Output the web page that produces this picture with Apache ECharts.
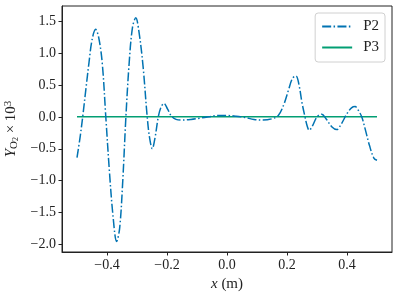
<!DOCTYPE html>
<html>
<head>
<meta charset="utf-8">
<script src="https://cdn.jsdelivr.net/npm/echarts@6/dist/echarts.min.js"></script>
<style>html,body{margin:0;padding:0;background:#fff}#c{width:399px;height:297px}</style>
</head>
<body>
<div id="c"></div>
<script>
const xP2 = [-0.500,-0.490,-0.481,-0.470,-0.460,-0.450,-0.438,-0.428,-0.416,-0.404,-0.392,-0.380,-0.368,-0.358,-0.348,-0.337,-0.326,-0.315,-0.304,-0.294,-0.280,-0.266,-0.258,-0.249,-0.240,-0.229,-0.220,-0.210,-0.198,-0.185,-0.170,-0.150,-0.120,-0.090,-0.060,-0.030,0.000,0.030,0.060,0.090,0.120,0.150,0.171,0.190,0.205,0.218,0.230,0.240,0.250,0.260,0.267,0.274,0.285,0.300,0.316,0.330,0.350,0.366,0.380,0.400,0.415,0.427,0.438,0.449,0.460,0.475,0.490,0.500];
const yP2 = [-0.64,-0.33,0.00,0.45,0.85,1.20,1.37,1.25,0.85,0.00,-0.85,-1.55,-1.95,-1.75,-1.05,0.00,0.85,1.40,1.55,1.35,0.80,0.00,-0.33,-0.50,-0.33,0.00,0.15,0.21,0.12,0.01,-0.04,-0.05,-0.04,-0.02,0.00,0.02,0.02,0.01,-0.01,-0.04,-0.05,-0.03,0.02,0.20,0.42,0.60,0.64,0.50,0.22,0.00,-0.14,-0.21,-0.14,0.00,0.04,-0.03,-0.16,-0.20,-0.12,0.05,0.14,0.16,0.10,0.00,-0.18,-0.45,-0.65,-0.68];
const xP3 = [-0.5, 0.5];
const yP3 = [0, 0];
const xTicks = [-0.4, -0.2, 0.0, 0.2, 0.4];
const yTicks = [-2.0, -1.5, -1.0, -0.5, 0.0, 0.5, 1.0, 1.5];

const FONT = '"Liberation Serif", "DejaVu Serif", serif';
const fmt = v => (v < 0 ? '\u2212' : '') + Math.abs(v).toFixed(1);

const chart = echarts.init(document.getElementById('c'), null, {renderer: 'canvas'});
chart.setOption({
  animation: false,
  backgroundColor: '#fff',
  textStyle: {fontFamily: FONT},
  grid: {left: 62, right: 7, top: 6, bottom: 45, outerBoundsMode: 'none', containLabel: false,
         show: true, borderColor: '#222', borderWidth: 1, backgroundColor: 'transparent'},
  legend: {
    orient: 'vertical', right: 14, top: 13,
    itemWidth: 30, itemHeight: 10, itemGap: 6,
    padding: [6, 6, 7, 6],
    borderColor: '#d0d0d0', borderWidth: 1, borderRadius: 3,
    backgroundColor: 'rgba(255,255,255,0.8)',
    itemStyle: {opacity: 0},
    textStyle: {fontFamily: FONT, fontSize: 15, color: '#222', padding: [0, 0, 0, 6]},
    data: ['P2', 'P3']
  },
  xAxis: {
    type: 'value', min: -0.55, max: 0.55,
    name: '{i|x} (m)', nameLocation: 'middle', nameGap: 25,
    nameTextStyle: {fontFamily: FONT, fontSize: 15, color: '#222', rich: {i: {fontStyle: 'italic', fontFamily: FONT, fontSize: 15, color: '#222'}}},
    axisLine: {show: true, onZero: false, lineStyle: {color: '#222', width: 1}},
    axisTick: {show: true, length: 3.5, inside: false, customValues: xTicks, lineStyle: {color: '#222'}},
    axisLabel: {customValues: xTicks, formatter: fmt, fontFamily: FONT, fontSize: 14, color: '#222', margin: 6},
    splitLine: {show: false}
  },
  yAxis: {
    type: 'value', min: -2.116, max: 1.735,
    name: '{i|Y}{sub|O}{sub2|2} × 10{sup|3}', nameLocation: 'middle', nameGap: 38,
    nameTextStyle: {fontFamily: FONT, fontSize: 15, color: '#222', rich: {
      i: {fontStyle: 'italic', fontFamily: FONT, fontSize: 15, color: '#222'},
      sub: {fontFamily: FONT, fontSize: 11, color: '#222', verticalAlign: 'bottom', padding: [6, 0, 0, 0]},
      sub2: {fontFamily: FONT, fontSize: 8, color: '#222', verticalAlign: 'bottom', padding: [8, 0, 0, 0]},
      sup: {fontFamily: FONT, fontSize: 11, color: '#222', verticalAlign: 'top', padding: [0, 0, 6, 0]}
    }},
    axisLine: {show: true, onZero: false, lineStyle: {color: '#222', width: 1}},
    axisTick: {show: true, length: 3.5, inside: false, customValues: yTicks, lineStyle: {color: '#222'}},
    axisLabel: {customValues: yTicks, formatter: fmt, fontFamily: FONT, fontSize: 14, color: '#222', margin: 6},
    splitLine: {show: false}
  },
  series: [
    {name: 'P2', type: 'line', data: xP2.map((x, i) => [x, yP2[i]]), smooth: 0.35, showSymbol: false, symbol: 'none',
     lineStyle: {color: '#0173b2', width: 1.5, type: [9, 2.4, 1.5, 2.4]}, itemStyle: {color: '#0173b2'}, z: 3},
    {name: 'P3', type: 'line', data: xP3.map((x, i) => [x, yP3[i]]), showSymbol: false, symbol: 'none',
     lineStyle: {color: '#029e73', width: 1.5, type: 'solid'}, itemStyle: {color: '#029e73'}, z: 2}
  ]
});
</script>
</body>
</html>
